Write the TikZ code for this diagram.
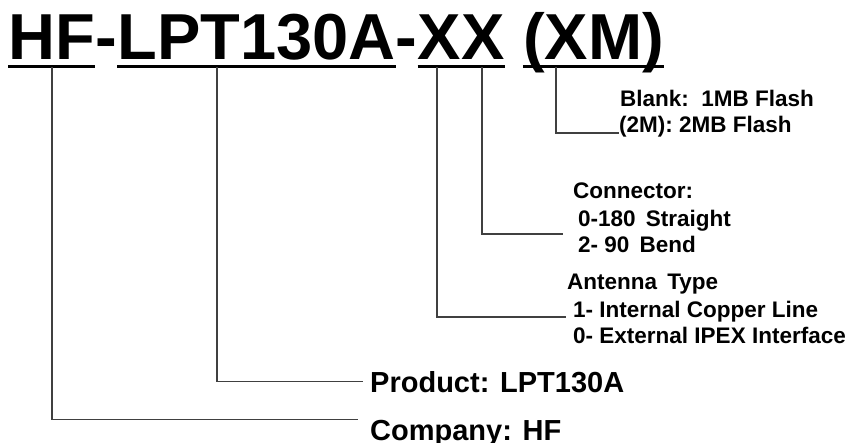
\documentclass[tikz,border=0pt]{standalone}
\usepackage{fontspec}
\setmainfont{Liberation Sans}
\usepackage{tikz}

\begin{document}
\begin{tikzpicture}[x=1pt, y=-1pt,
    title/.style={font=\fontsize{65}{78}\selectfont\bfseries, inner sep=0pt, anchor=base west},
    note/.style={font=\fontsize{22.5}{27}\selectfont\bfseries, inner sep=0pt, anchor=base west},
    label/.style={font=\fontsize{29}{34}\selectfont\bfseries, inner sep=0pt, anchor=base west},
    uline/.style={line width=3pt},
    lead/.style={draw=black!75, line width=1.2pt}]
  \useasboundingbox (0,0) rectangle (850,443);

  \node[title] (hf) at (8,60) {HF};
  \node[title] (dashA) at (hf.base east) {-};
  \node[title] (lpt) at (dashA.base east) {LPT130A};
  \node[title] (dashB) at (lpt.base east) {-};
  \node[title] (xx) at (dashB.base east) {XX};
  \node[title] (xm) at ([xshift=18pt]xx.base east) {(XM)};

  \foreach \part in {hf, lpt, xx, xm}
    \draw[uline] ([yshift=-6.5pt]\part.base west) -- ([yshift=-6.5pt]\part.base east);

  \coordinate (tapHF) at (52,67);
  \coordinate (tapLPT) at (217,67);
  \coordinate (tapAnt) at (437,67);
  \coordinate (tapCon) at (482,67);
  \coordinate (tapMem) at (556,67);

  \node[note] (blank) at (620,107) {Blank:\hspace{0.55em}1MB Flash};
  \node[note] (flash) at (619,133) {(2M): 2MB Flash};

  \node[note] (conn) at (573,199) {Connector:};
  \node[note] (straight) at (578,227) {0-180\hspace{0.45em}Straight};
  \node[note] (bend) at (578,253) {2- 90\hspace{0.45em}Bend};

  \node[note] (ant) at (567,289) {Antenna\hspace{0.45em}Type};
  \node[note] (copper) at (573,317) {1- Internal Copper Line};
  \node[note] (ipex) at (573,343) {0- External IPEX Interface};

  \node[label] (product) at (370,392) {Product: LPT130A};
  \node[label] (company) at (370,440) {Company: HF};

  \draw[lead] (tapMem) |- (flash.base west);
  \draw[lead] (tapCon) |- ([xshift=-15pt,yshift=-7pt]straight.base west);
  \draw[lead] (tapAnt) |- ([xshift=-7pt]copper.base west);
  \draw[lead] (tapLPT) |- ([xshift=-7pt]product.west);
  \draw[lead] (tapHF) |- ([xshift=-12pt]company.north west);
  %\draw[lead] (tapHF) -- (hf.south);
\end{tikzpicture}
\end{document}
